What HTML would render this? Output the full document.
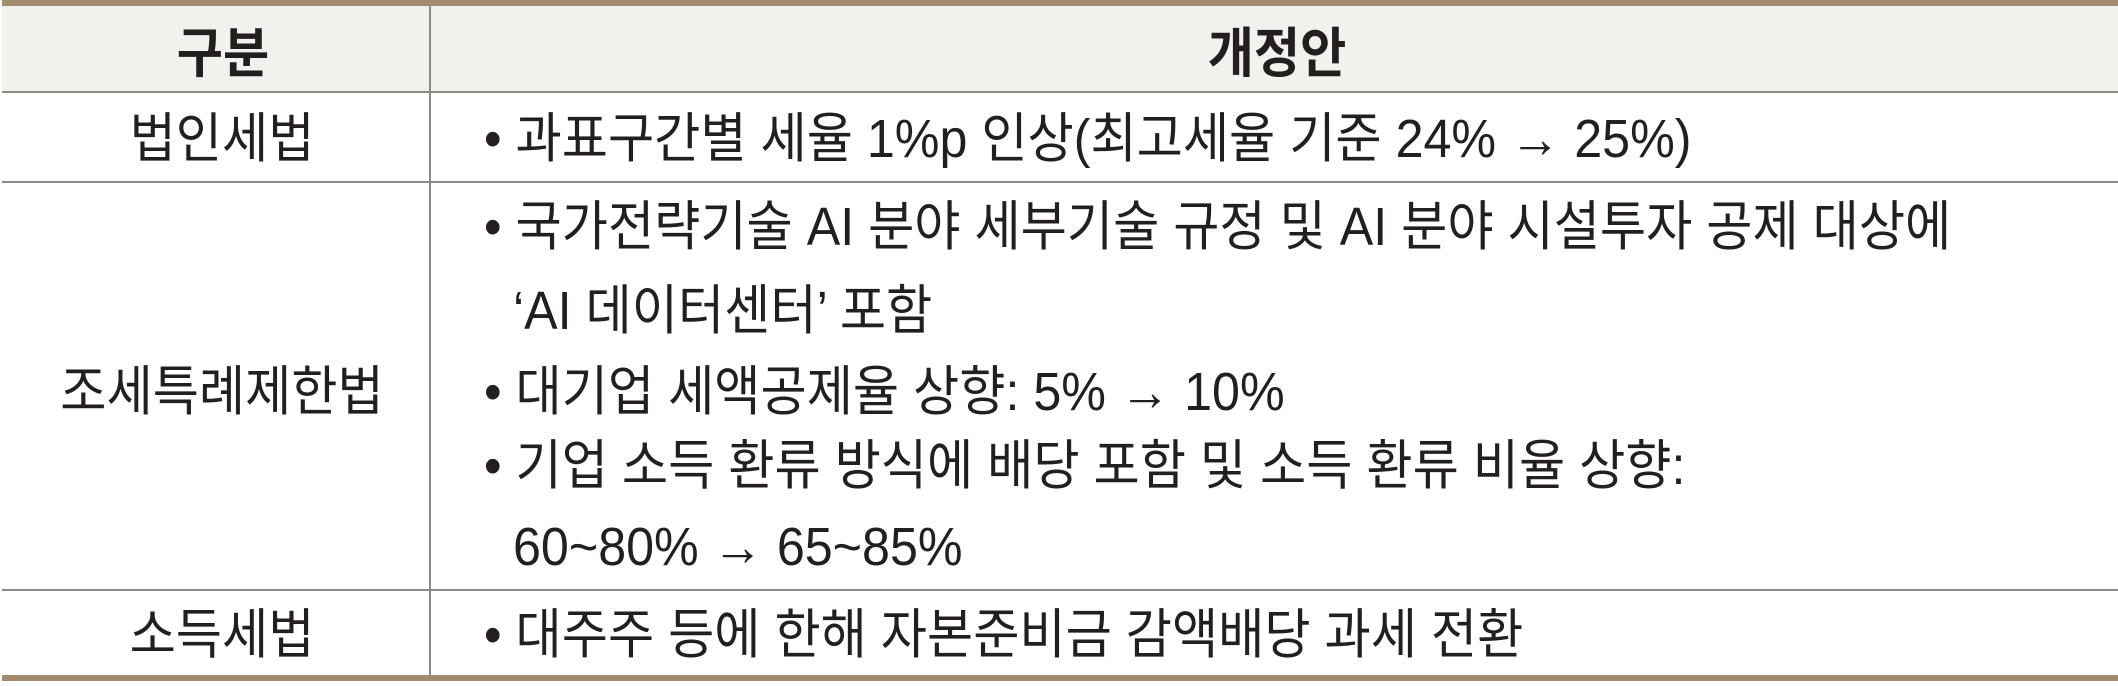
<!DOCTYPE html>
<html><head><meta charset="utf-8">
<style>
html,body{margin:0;padding:0;background:#fff;}
#t{position:relative;width:2118px;height:686px;overflow:hidden;font-family:"Liberation Sans","Noto Sans CJK KR","NanumGothic",sans-serif;color:#231f20;}
.ln{position:absolute;}
.tx{position:absolute;height:70px;line-height:70px;font-size:54px;white-space:nowrap;}
.l{transform:scaleX(0.93);transform-origin:left center;}
.c{transform:translateX(-50%) scaleX(0.93);transform-origin:center center;}
.b{font-weight:bold;}
</style></head><body>
<div id="t">
<div class="ln" style="left:2px;top:0;width:2116px;height:92px;background:#f3f1ed;"></div>
<div class="ln" style="left:2px;top:0;width:2116px;height:6px;background:#a38b70;"></div>
<div class="ln" style="left:2px;top:91px;width:2116px;height:2px;background:#8a8a8a;"></div>
<div class="ln" style="left:2px;top:181px;width:2116px;height:2px;background:#8a8a8a;"></div>
<div class="ln" style="left:2px;top:589px;width:2116px;height:2px;background:#8a8a8a;"></div>
<div class="ln" style="left:2px;top:675px;width:2116px;height:6px;background:#a38b70;"></div>
<div class="ln" style="left:429px;top:6px;width:2px;height:669px;background:#8a8a8a;"></div>

<div class="tx c b" style="left:223px;top:19px;">구분</div>
<div class="tx c b" style="left:1277px;top:19px;">개정안</div>

<div class="tx c" style="left:222px;top:104px;">법인세법</div>
<div class="tx l" style="left:484px;top:104px;">• 과표구간별 세율 1%p 인상(최고세율 기준 24% → 25%)</div>

<div class="tx c" style="left:222px;top:357px;">조세특례제한법</div>
<div class="tx l" style="left:484px;top:192px;">• 국가전략기술 AI 분야 세부기술 규정 및 AI 분야 시설투자 공제 대상에</div>
<div class="tx l" style="left:513px;top:276px;">‘AI 데이터센터’ 포함</div>
<div class="tx l" style="left:484px;top:357px;">• 대기업 세액공제율 상향: 5% → 10%</div>
<div class="tx l" style="left:484px;top:431px;">• 기업 소득 환류 방식에 배당 포함 및 소득 환류 비율 상향:</div>
<div class="tx l" style="left:513px;top:512px;">60~80% → 65~85%</div>

<div class="tx c" style="left:222px;top:600px;">소득세법</div>
<div class="tx l" style="left:484px;top:600px;">• 대주주 등에 한해 자본준비금 감액배당 과세 전환</div>
</div>
</body></html>
